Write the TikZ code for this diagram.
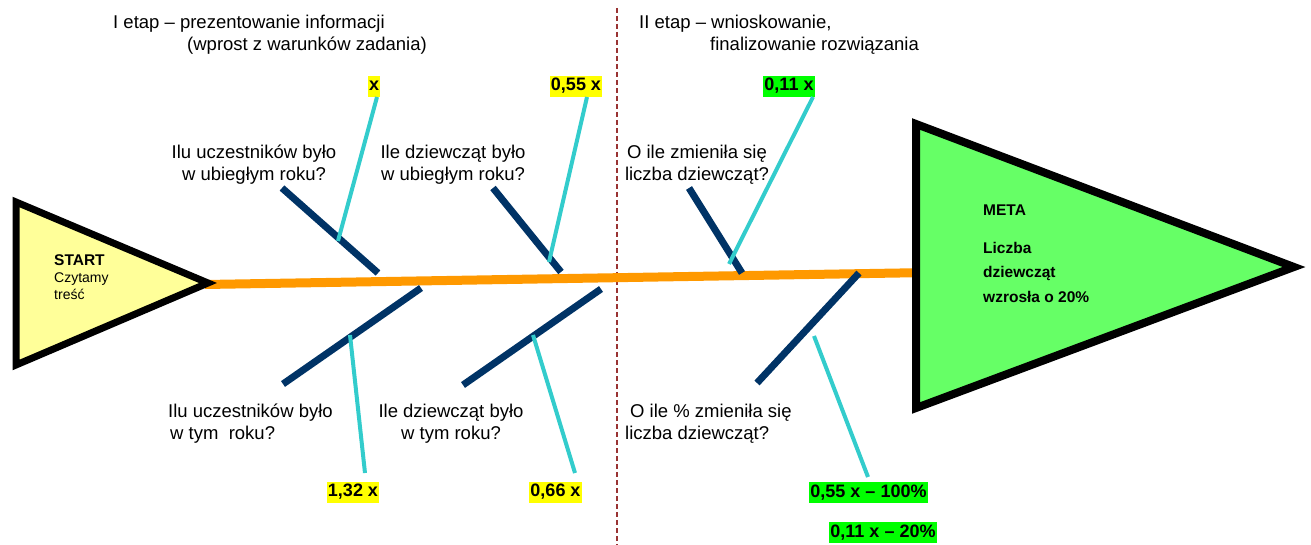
\documentclass[tikz,border=0pt]{standalone}
\usepackage{fontspec}
\setmainfont{Liberation Sans}
\definecolor{spinec}{HTML}{FF9900}
\definecolor{bonec}{HTML}{003366}
\definecolor{cyanc}{HTML}{33CCCC}
\definecolor{startfill}{HTML}{FFFF99}
\definecolor{metafill}{HTML}{66FF66}
\definecolor{dividerc}{HTML}{993333}
\definecolor{ylab}{HTML}{FFFF00}
\definecolor{glab}{HTML}{00FF00}
\begin{document}
\begin{tikzpicture}[x=1pt,y=-1pt,
  qtext/.style={inner sep=0pt, font=\fontsize{18.5}{22}\selectfont},
  valbox/.style={inner xsep=1pt, inner ysep=0pt, minimum height=21pt, text height=13pt, text depth=4pt, font=\bfseries\fontsize{18}{21}\selectfont},
  yval/.style={valbox, fill=ylab},
  gval/.style={valbox, fill=glab},
  spineline/.style={spinec, line width=9pt},
  boneline/.style={bonec, line width=7pt},
  cyanline/.style={cyanc, line width=4pt},
  headbox/.style={line width=7pt, line join=miter}]
\useasboundingbox (0,0) rectangle (1311,545);

% divider
\coordinate (divtop) at (617,8);
\coordinate (divbot) at (617,545);
\draw[dividerc, line width=1.3pt, dash pattern=on 5pt off 3pt] (divtop) -- (divbot);

% spine
\coordinate (starttip) at (205,284.5);
\coordinate (metaleft) at (918,272.7);
\draw[spineline] (starttip) -- (metaleft);

% START triangle
\draw[headbox, fill=startfill] (16,202) -- (16,365) -- (208,283) -- cycle;
\node[inner sep=0pt, anchor=north west, align=left, font=\fontsize{14}{17}\selectfont] (start) at (54,253.5)
  {\strut{\fontsize{15.5}{17}\selectfont\textbf{START}}\\\strut Czytamy\\\strut treść};

% META triangle
\draw[headbox, line width=8pt, fill=metafill] (916,124) -- (916,408) -- (1294,267) -- cycle;
\node[inner sep=0pt, anchor=north west, align=left, font=\bfseries\fontsize{15.5}{24.5}\selectfont] (meta) at (983,197.9)
  {\strut META\\[13.5pt]\strut Liczba\\\strut dziewcząt\\\strut wzrosła o 20\%};

% bones
\coordinate (ub1s) at (282,188); \coordinate (ub1e) at (378,273);
\coordinate (ub2s) at (493,188); \coordinate (ub2e) at (561,272);
\coordinate (ub3s) at (689,188); \coordinate (ub3e) at (742,273);
\coordinate (lb1s) at (283,384); \coordinate (lb1e) at (421,288);
\coordinate (lb2s) at (463,385); \coordinate (lb2e) at (601,289);
\coordinate (lb3s) at (757,383); \coordinate (lb3e) at (859,273);
\draw[boneline] (ub1s) -- (ub1e);
\draw[boneline] (ub2s) -- (ub2e);
\draw[boneline] (ub3s) -- (ub3e);
\draw[boneline] (lb1s) -- (lb1e);
\draw[boneline] (lb2s) -- (lb2e);
\draw[boneline] (lb3s) -- (lb3e);

% value labels
\node[yval, inner xsep=0.5pt] (vx) at (374,86.5) {x};
\node[yval] (v055) at (576,86.5) {0,55 x};
\node[gval] (v011) at (789,86.5) {0,11 x};
\node[yval] (v132) at (353,492) {1,32 x};
\node[yval] (v066) at (555.5,492) {0,66 x};
\node[gval] (v100) at (868.5,492.5) {0,55 x – 100\%};
\node[gval] (v20) at (883,532.5) {0,11 x – 20\%};

% cyan lines
\coordinate (c1a) at (377,97);  \coordinate (c1b) at (338,241);
\coordinate (c2a) at (587,97);  \coordinate (c2b) at (549,262);
\coordinate (c3a) at (813,97);  \coordinate (c3b) at (729,264);
\coordinate (c4a) at (350,335); \coordinate (c4b) at (365,473);
\coordinate (c5a) at (533,335); \coordinate (c5b) at (575,473);
\coordinate (c6a) at (814,336); \coordinate (c6b) at (868,477);
\draw[cyanline] (c1a) -- (c1b);
\draw[cyanline] (c2a) -- (c2b);
\draw[cyanline] (c3a) -- (c3b);
\draw[cyanline] (c4a) -- (c4b);
\draw[cyanline] (c5a) -- (c5b);
\draw[cyanline] (c6a) -- (c6b);

% headers
\node[qtext, anchor=north west, align=left] (h1) at (113,12.6)
  {\strut I etap – prezentowanie informacji\\\strut\hspace*{74pt}(wprost z warunków zadania)};
\node[qtext, anchor=north west, align=left] (h2) at (639,12.6)
  {\strut II etap – wnioskowanie,\\\strut\hspace*{71pt}finalizowanie rozwiązania};

% questions
\node[qtext, anchor=north, align=center] (uq1) at (254,142.6)
  {\strut Ilu uczestników było\\\strut w ubiegłym roku?};
\node[qtext, anchor=north, align=center] (uq2) at (453,142.6)
  {\strut Ile dziewcząt było\\\strut w ubiegłym roku?};
\node[qtext, anchor=north, align=center] (uq3) at (697,142.6)
  {\strut O ile zmieniła się\\\strut liczba dziewcząt?};
\node[qtext, anchor=north west, align=left] (lq1) at (168,401.6)
  {\strut Ilu uczestników było\\\strut\hspace*{2pt}w tym\ \ roku?};
\node[qtext, anchor=north, align=center] (lq2) at (451,401.6)
  {\strut Ile dziewcząt było\\\strut w tym roku?};
\node[qtext, anchor=north west, align=left] (lq3) at (625,401.6)
  {\strut\hspace*{5pt}O ile \% zmieniła się\\\strut liczba dziewcząt?};
\end{tikzpicture}
\end{document}
